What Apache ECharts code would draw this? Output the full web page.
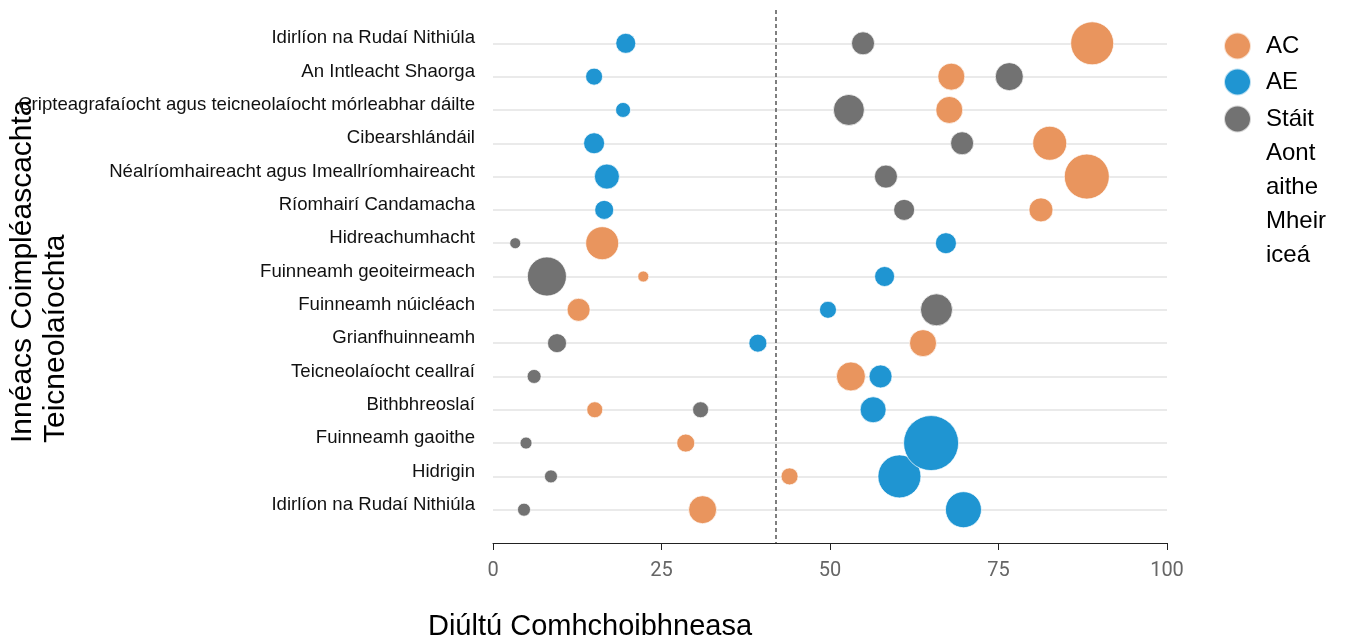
<!DOCTYPE html>
<html>
<head>
<meta charset="utf-8">
<title>Diúltú Comhchoibhneasa</title>
<script src="https://cdn.jsdelivr.net/npm/echarts@6/dist/echarts.min.js"></script>
<style>
  html, body { margin: 0; padding: 0; background: #fff; }
  #chart { width: 1357px; height: 640px; }
</style>
</head>
<body>
<div id="chart"></div>
<script>
// teicneolaíochtaí (ó bharr go bun)
const categories = [
  'Idirlíon na Rudaí Nithiúla',
  'An Intleacht Shaorga',
  'Cripteagrafaíocht agus teicneolaíocht mórleabhar dáilte',
  'Cibearshlándáil',
  'Néalríomhaireacht agus Imeallríomhaireacht',
  'Ríomhairí Candamacha',
  'Hidreachumhacht',
  'Fuinneamh geoiteirmeach',
  'Fuinneamh núicléach',
  'Grianfhuinneamh',
  'Teicneolaíocht ceallraí',
  'Bithbhreoslaí',
  'Fuinneamh gaoithe',
  'Hidrigin',
  'Idirlíon na Rudaí Nithiúla'
];

const seriesNames = ['AC', 'AE', 'Stáit Aontaithe Mheiriceá'];

const acValues = [88.9, 68.0, 67.7, 82.6, 88.1, 81.3, 16.2, 22.3, 12.7, 63.8, 53.1, 15.1, 28.6, 44.0, 31.1];
const acSizes  = [43, 27, 27, 34, 45, 24, 33, 11, 23, 27, 29, 16, 18, 17, 28];

const aeValues = [19.7, 15.0, 19.3, 15.0, 16.9, 16.5, 67.2, 58.1, 49.7, 39.3, 57.5, 56.4, 65.0, 60.3, 69.8];
const aeSizes  = [20, 17, 15, 21, 25, 19, 21, 20, 17, 18, 23, 26, 55, 43, 36];

const usValues = [54.9, 76.6, 52.8, 69.6, 58.3, 61.0, 3.3, 8.0, 65.8, 9.5, 6.1, 30.8, 4.9, 8.6, 4.6];
const usSizes  = [23, 28, 31, 23, 23, 21, 11, 39, 32, 19, 14, 16, 12, 13, 13];

const xTicks = [0, 25, 50, 75, 100];
const threshold = 42;

const colors = ['#E9955E', '#1F95D2', '#727272'];

// [x, sraith, méid] — ón mbun aníos ionas go mbeidh na boilgeoga móra ar barr
function buildData(values, sizes) {
  const out = [];
  for (let i = values.length - 1; i >= 0; i--) {
    out.push([values[i], i, sizes[i]]);
  }
  return out;
}

const chart = echarts.init(document.getElementById('chart'));

const series = [
  { values: acValues, sizes: acSizes },
  { values: aeValues, sizes: aeSizes },
  { values: usValues, sizes: usSizes }
].map((s, idx) => ({
  name: seriesNames[idx],
  type: 'scatter',
  data: buildData(s.values, s.sizes),
  symbolSize: d => d[2],
  itemStyle: {
    color: colors[idx],
    opacity: 1,
    borderColor: 'rgba(255,255,255,0.7)',
    borderWidth: 1
  },
  emphasis: { disabled: true }
}));

// líne ingearach bhriste
series[0].markLine = {
  silent: true,
  symbol: 'none',
  label: { show: false },
  lineStyle: { color: '#555', type: [4, 3], width: 1.5 },
  data: [{ xAxis: threshold }]
};

const legendFont = {
  fontFamily: 'Liberation Sans, Arial, sans-serif',
  fontSize: 24,
  color: '#000',
  lineHeight: 34
};

// ciorcal ag barr na míre, ionas go mbeidh sé ar aon líne leis an gcéad fhocal
const topCircleIcon = 'path://M13.5,0 M13.5,170 M0,17 A13.5,13.5 0 1 1 27,17 A13.5,13.5 0 1 1 0,17 Z';

const option = {
  animation: false,
  color: colors,
  grid: {
    left: 493,
    right: 190,
    top: 10,
    bottom: 97
  },
  legend: [
    {
      orient: 'vertical',
      left: 1218,
      top: 24,
      itemWidth: 47,
      itemHeight: 27,
      itemGap: 2,
      icon: 'circle',
      data: [seriesNames[0], seriesNames[1]],
      textStyle: legendFont
    },
    {
      orient: 'vertical',
      left: 1218,
      top: 96,
      itemWidth: 47,
      itemHeight: 170,
      icon: topCircleIcon,
      data: [seriesNames[2]],
      formatter: () => 'Stáit\nAont\naithe\nMheir\niceá',
      textStyle: legendFont
    }
  ],
  xAxis: {
    type: 'value',
    min: xTicks[0],
    max: xTicks[xTicks.length - 1],
    interval: 25,
    axisLine: { show: true, onZero: false, lineStyle: { color: '#222', width: 1 } },
    axisTick: { show: true, length: 7, lineStyle: { color: '#222' } },
    axisLabel: {
      color: '#666',
      fontFamily: 'Liberation Sans Narrow, Roboto, sans-serif',
      fontSize: 20,
      margin: 18
    },
    splitLine: { show: false }
  },
  yAxis: {
    type: 'value',
    inverse: true,
    min: -1,
    max: categories.length,
    interval: 1,
    axisLine: { show: false },
    axisTick: { show: false },
    axisLabel: {
      formatter: v => categories[v] || '',
      color: '#111',
      fontFamily: 'Liberation Sans, Arial, sans-serif',
      fontSize: 18.6,
      margin: 18,
      verticalAlign: 'bottom',
      lineHeight: 10
    },
    splitLine: {
      show: true,
      showMinLine: false,
      showMaxLine: false,
      lineStyle: { color: '#E3E3E3', width: 1.5 }
    }
  },
  graphic: [
    {
      type: 'text',
      x: 590,
      y: 627,
      style: {
        text: 'Diúltú Comhchoibhneasa',
        fontFamily: 'Liberation Sans, Arial, sans-serif',
        fontSize: 29,
        fill: '#000',
        align: 'center',
        verticalAlign: 'middle'
      }
    },
    {
      type: 'text',
      x: 39,
      y: 443,
      rotation: Math.PI / 2,
      style: {
        text: 'Innéacs Coimpléascachta\nTeicneolaíochta',
        fontFamily: 'Liberation Sans, Arial, sans-serif',
        fontSize: 30,
        lineHeight: 33,
        fill: '#000',
        align: 'left',
        verticalAlign: 'middle'
      }
    }
  ],
  series: series
};

chart.setOption(option);
</script>
</body>
</html>
